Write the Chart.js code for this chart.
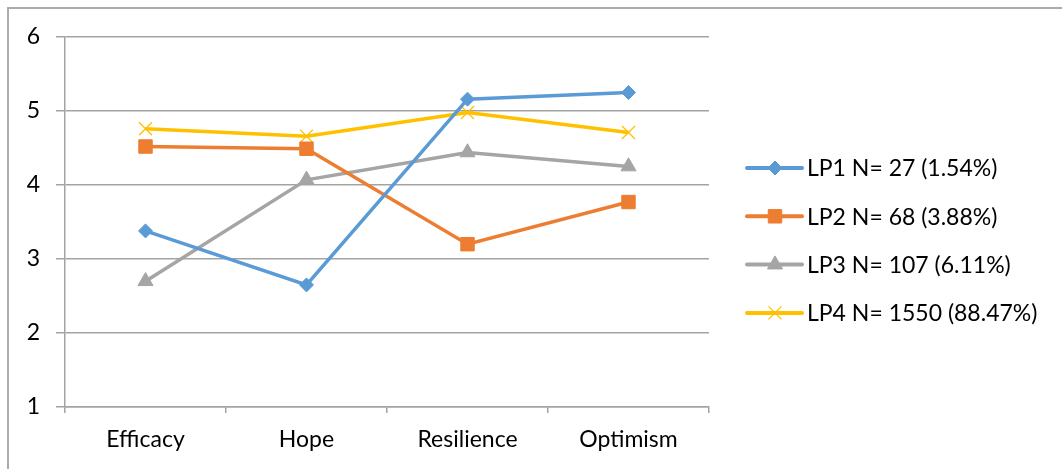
<!DOCTYPE html>
<html>
<head>
<meta charset="utf-8">
<script src="https://cdn.jsdelivr.net/npm/chart.js@4.4.1/dist/chart.umd.min.js"></script>
<style>
  html, body { margin: 0; padding: 0; background: #fff; }
  #wrap { width: 1062px; height: 469px; position: relative; }
</style>
</head>
<body>
<div id="wrap"><canvas id="c" width="1062" height="469"></canvas></div>
<script>
const categories = ['Efficacy', 'Hope', 'Resilience', 'Optimism'];
const seriesNames = ['LP1 N= 27 (1.54%)', 'LP2 N= 68 (3.88%)', 'LP3 N= 107 (6.11%)', 'LP4 N= 1550 (88.47%)'];
const lp1 = [3.38, 2.65, 5.16, 5.25];
const lp2 = [4.52, 4.49, 3.20, 3.77];
const lp3 = [2.70, 4.07, 4.44, 4.25];
const lp4 = [4.76, 4.66, 4.98, 4.71];
const yTicks = [1, 2, 3, 4, 5, 6];

const FONT = 'Lato, "Open Sans", sans-serif';
const GRID = '#a3a3a3';

const styles = [
  { color: '#5B9BD5', pointStyle: 'rectRot', radius: 7, bw: 1 },
  { color: '#ED7D31', pointStyle: 'rect', radius: 9.5, bw: 1 },
  { color: '#A5A5A5', pointStyle: 'triangle', radius: 8.7, bw: 1 },
  { color: '#FFC000', pointStyle: 'crossRot', radius: 9.2, bw: 1.3 }
];
const values = [lp1, lp2, lp3, lp4];

const datasets = values.map((v, i) => ({
  label: seriesNames[i],
  data: v,
  borderColor: styles[i].color,
  backgroundColor: styles[i].color,
  borderWidth: 3.5,
  pointStyle: styles[i].pointStyle,
  pointRadius: styles[i].radius,
  pointHoverRadius: styles[i].radius,
  pointBorderWidth: styles[i].bw,
  pointBorderColor: styles[i].color,
  pointBackgroundColor: styles[i].color,
  tension: 0,
  fill: false
}));

const framePlugin = {
  id: 'frame',
  beforeDraw(chart) {
    const ctx = chart.ctx;
    ctx.save();
    ctx.strokeStyle = '#ababab';
    ctx.lineWidth = 2;
    ctx.beginPath();
    ctx.moveTo(8, 469);
    ctx.lineTo(8, 8);
    ctx.lineTo(1062, 8);
    ctx.stroke();
    ctx.restore();
  }
};

const legendPlugin = {
  id: 'customLegend',
  afterDraw(chart) {
    const ctx = chart.ctx;
    const x0 = 747, x1 = 802, xm = 775, tx = 807;
    const yStart = 168, dy = 48.3;
    ctx.save();
    chart.data.datasets.forEach((ds, i) => {
      const y = yStart + i * dy;
      ctx.strokeStyle = ds.borderColor;
      ctx.lineWidth = 4;
      ctx.lineCap = 'round';
      ctx.beginPath();
      ctx.moveTo(x0, y);
      ctx.lineTo(x1, y);
      ctx.stroke();
      ctx.lineCap = 'butt';
      ctx.fillStyle = ds.pointBackgroundColor;
      ctx.strokeStyle = ds.pointBorderColor;
      ctx.lineWidth = ds.pointBorderWidth;
      Chart.helpers.drawPoint(ctx, {
        pointStyle: ds.pointStyle,
        rotation: 0,
        radius: ds.pointRadius,
        borderWidth: ds.pointBorderWidth
      }, xm, y);
      ctx.fillStyle = '#000';
      ctx.font = '23px ' + FONT;
      ctx.textAlign = 'left';
      ctx.textBaseline = 'middle';
      ctx.fillText(ds.label, tx, y + 1);
    });
    ctx.restore();
  }
};

new Chart(document.getElementById('c'), {
  type: 'line',
  data: { labels: categories, datasets },
  options: {
    responsive: false,
    animation: false,
    events: [],
    layout: { padding: { left: 0, right: 353, top: 37, bottom: 0 } },
    plugins: { legend: { display: false }, tooltip: { enabled: false } },
    scales: {
      x: {
        type: 'category',
        offset: true,
        grid: { display: true, drawOnChartArea: false, drawTicks: true, tickLength: 6, color: GRID, lineWidth: 1.5, offset: true },
        border: { display: true, color: GRID, width: 1.5 },
        ticks: { color: '#000', font: { family: FONT, size: 23 }, padding: 13, maxRotation: 0, autoSkip: false },
        afterFit(scale) { scale.height = 62; }
      },
      y: {
        min: 1, max: 6,
        afterBuildTicks(scale) { scale.ticks = yTicks.map(v => ({ value: v })); },
        grid: { color: GRID, lineWidth: 1.5, tickLength: 9, drawTicks: true },
        border: { display: true, color: GRID, width: 1.5 },
        ticks: { color: '#000', font: { family: FONT, size: 23 }, padding: 16 },
        afterFit(scale) { scale.width = 65; }
      }
    }
  },
  plugins: [framePlugin, legendPlugin]
});
</script>
</body>
</html>
